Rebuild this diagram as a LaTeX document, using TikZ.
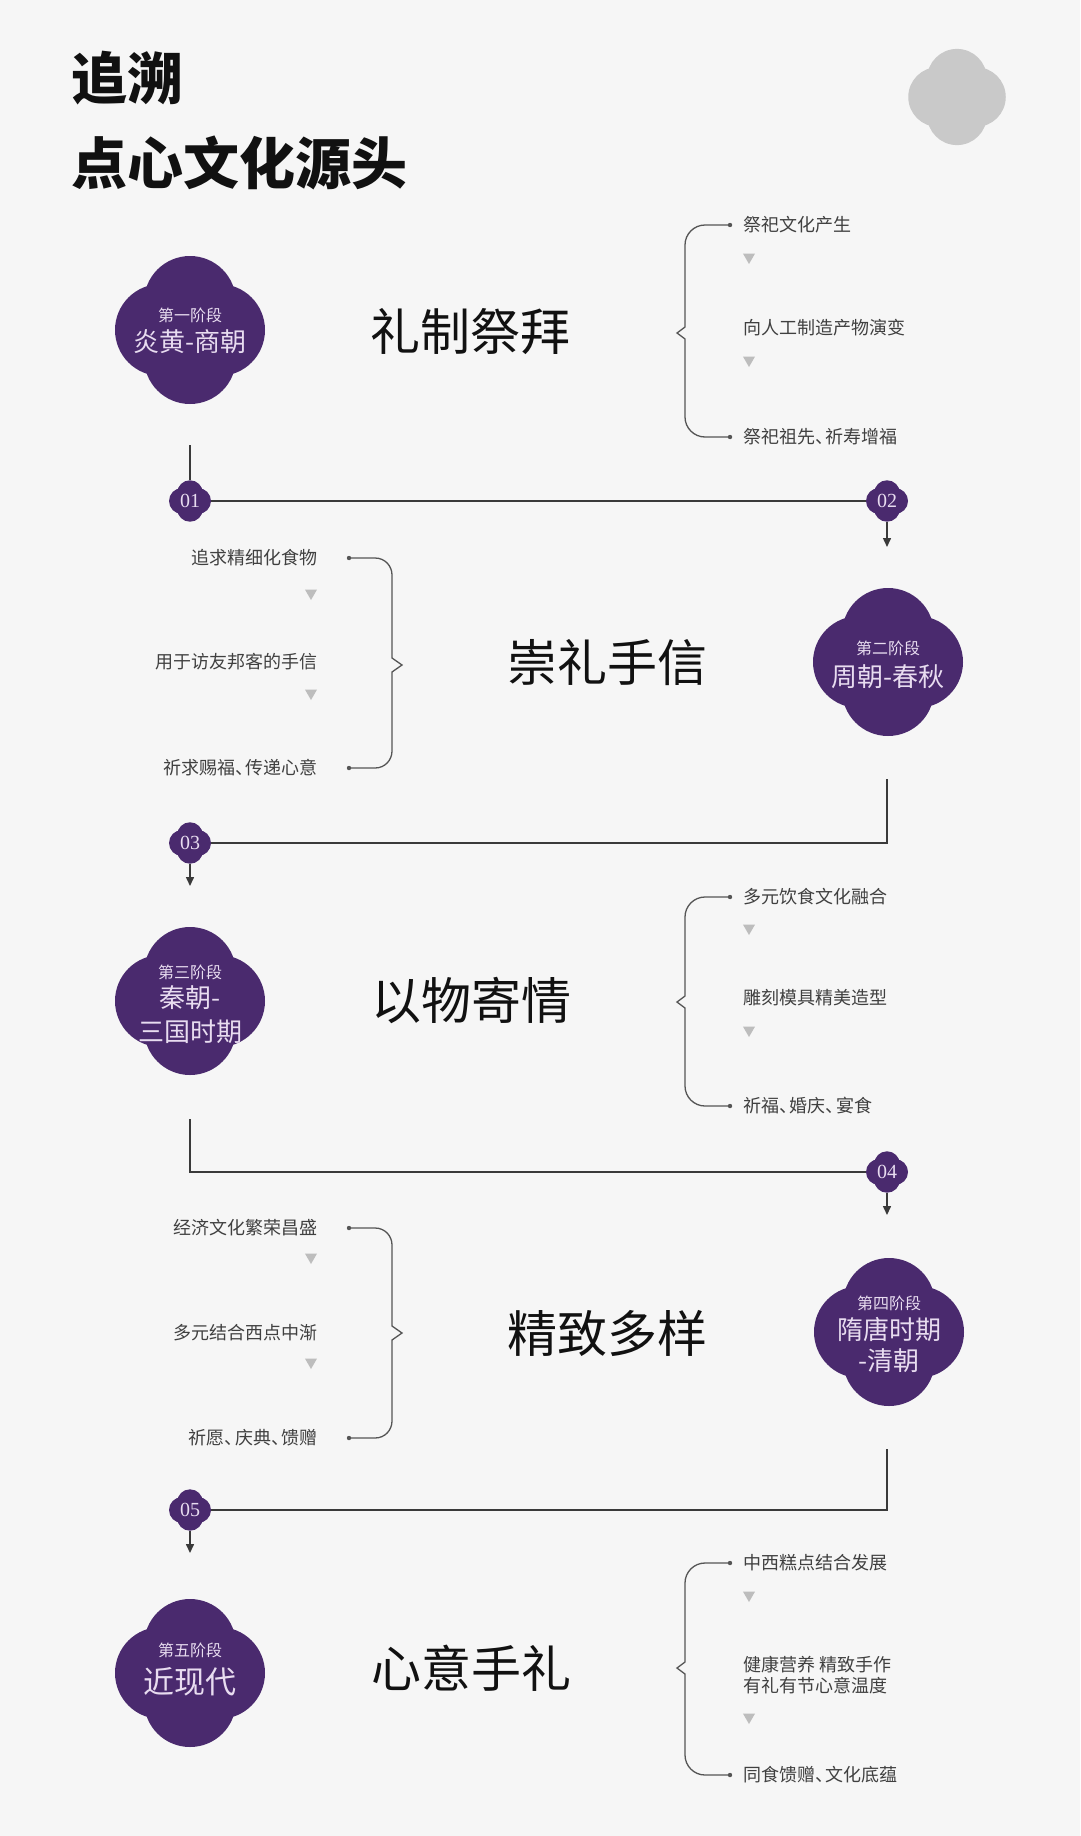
\documentclass[tikz,border=0pt]{standalone}
\usepackage{fontspec}
\usetikzlibrary{arrows.meta,shapes.geometric}
\newfontfamily\cjk{Noto Sans CJK SC}
\newfontfamily\numfont{Liberation Serif}
\definecolor{bg}{HTML}{F6F6F6}
\definecolor{plum}{HTML}{4A2A6E}
\definecolor{lav}{HTML}{E8DCF0}
\definecolor{lineC}{HTML}{3A3A3A}
\definecolor{brk}{HTML}{555555}
\definecolor{itemC}{HTML}{404040}
\definecolor{triC}{HTML}{BDBDBD}
\definecolor{cloudG}{HTML}{C9C9C9}
\definecolor{ink}{HTML}{111111}
\newcommand\dun{、\kern-0.42em}
% clover shape: x, y, scale, colour
\newcommand\clover[4]{\fill[#4] ({#1+29*#3},{#2}) circle[radius={46*#3}] ({#1-29*#3},{#2}) circle[radius={46*#3}] ({#1},{#2+28*#3}) circle[radius={46*#3}] ({#1},{#2-28*#3}) circle[radius={46*#3}];}
% right-side brace (opening to the right): top, tip, bottom
\newcommand\rbrk[3]{%
  \draw[brkline] (730,#1) -- (705,#1) .. controls (694,#1) and (685,{#1+9}) .. (685,{#1+20}) -- (685,{#2-6}) -- (677,#2) -- (685,{#2+6}) -- (685,{#3-20}) .. controls (685,{#3-9}) and (694,#3) .. (705,#3) -- (730,#3);
  \fill[brk] (730,#1) circle[radius=2.2] (730,#3) circle[radius=2.2];}
% left-side brace (closing): top, tip, bottom
\newcommand\lbrk[3]{%
  \draw[brkline] (349,#1) -- (375,#1) .. controls (385,#1) and (392,{#1+8}) .. (392,{#1+17}) -- (392,{#2-7}) -- (402,#2) -- (392,{#2+7}) -- (392,{#3-17}) .. controls (392,{#3-8}) and (385,#3) .. (375,#3) -- (349,#3);
  \fill[brk] (349,#1) circle[radius=2.2] (349,#3) circle[radius=2.2];}
\begin{document}
\begin{tikzpicture}[x=1pt,y=-1pt,
  titletxt/.style={font=\cjk\bfseries\fontsize{56}{60}\selectfont,text=ink,inner sep=0pt,anchor=west},
  stitle/.style={font=\cjk\fontsize{50}{56}\selectfont,text=ink,inner sep=0pt},
  labsmall/.style={font=\cjk\fontsize{16}{18}\selectfont,text=lav,inner sep=0pt},
  labbig/.style={font=\cjk\fontsize{26}{30}\selectfont,text=lav,inner sep=0pt},
  itemR/.style={font=\cjk\fontsize{18}{21}\selectfont,text=itemC,inner sep=0pt,anchor=west,align=left},
  itemL/.style={font=\cjk\fontsize{18}{21}\selectfont,text=itemC,inner sep=0pt,anchor=east,align=right},
  tri/.style={regular polygon,regular polygon sides=3,shape border rotate=180,fill=triC,minimum size=14pt,inner sep=0pt},
  badge/.style={circle,minimum size=42pt,inner sep=0pt,font=\numfont\fontsize{20}{20}\selectfont,text=lav},
  conn/.style={draw=lineC,line width=1.5pt},
  arr/.style={-{Triangle[width=8pt,length=9pt]}},
  brkline/.style={draw=brk,line width=1.3pt}]
\fill[bg] (0,0) rectangle (1080,1836);
\useasboundingbox (0,0) rectangle (1080,1836);

% title
\node[titletxt] (t1) at (71,78) {追溯};
\node[titletxt] (t2) at (71,163) {点心文化源头};
\clover{957}{97}{0.65}{cloudG}

% ---------- stage 1
\clover{190}{330}{1}{plum}
\node[labsmall] (s1a) at (190,315) {第一阶段};
\node[labbig] (s1b) at (190,342) {炎黄-商朝};
\node[stitle] (h1) at (470,332) {礼制祭拜};
\node[itemR] (a11) at (743,225) {祭祀文化产生};
\node[tri] (a1t1) at (749,257) {};
\node[itemR] (a12) at (743,328) {向人工制造产物演变};
\node[tri] (a1t2) at (749,360) {};
\node[itemR] (a13) at (743,437) {祭祀祖先\dun 祈寿增福};
\rbrk{225}{333}{437}

% connector 1 -> 2
\coordinate (c1) at (190,445);
\clover{190}{501}{0.28}{plum}
\node[badge] (b1) at (190,501) {01};
\clover{887}{501}{0.28}{plum}
\node[badge] (b2) at (887,501) {02};
\coordinate (e2) at (887,547);
\draw[conn] (c1) -- (b1);
\draw[conn] (b1) -- (b2);
\draw[conn,arr] (b2) -- (e2);

% ---------- stage 2
\clover{888}{662}{1}{plum}
\node[labsmall] (s2a) at (888,648) {第二阶段};
\node[labbig] (s2b) at (888,677) {周朝-春秋};
\node[stitle] (h2) at (607,663) {崇礼手信};
\node[itemL] (a21) at (318,558) {追求精细化食物};
\node[tri] (a2t1) at (311,593) {};
\node[itemL] (a22) at (318,662) {用于访友邦客的手信};
\node[tri] (a2t2) at (311,693) {};
\node[itemL] (a23) at (318,768) {祈求赐福\dun 传递心意};
\lbrk{558}{665}{768}

% connector 2 -> 3
\coordinate (c2) at (887,779);
\clover{190}{843}{0.28}{plum}
\node[badge] (b3) at (190,843) {03};
\coordinate (e3) at (190,886);
\draw[conn] (c2) |- (b3);
\draw[conn,arr] (b3) -- (e3);

% ---------- stage 3
\clover{190}{1001}{1}{plum}
\node[labsmall] (s3a) at (190,972) {第三阶段};
\node[labbig] (s3b) at (190,998) {秦朝-};
\node[labbig] (s3c) at (190,1032) {三国时期};
\node[stitle] (h3) at (471,1000) {以物寄情};
\node[itemR] (a31) at (743,897) {多元饮食文化融合};
\node[tri] (a3t1) at (749,928) {};
\node[itemR] (a32) at (743,998) {雕刻模具精美造型};
\node[tri] (a3t2) at (749,1030) {};
\node[itemR] (a33) at (743,1106) {祈福\dun 婚庆\dun 宴食};
\rbrk{897}{1002}{1106}

% connector 3 -> 4
\coordinate (c3) at (190,1119);
\clover{887}{1172}{0.28}{plum}
\node[badge] (b4) at (887,1172) {04};
\coordinate (e4) at (887,1215);
\draw[conn] (c3) |- (b4);
\draw[conn,arr] (b4) -- (e4);

% ---------- stage 4
\clover{889}{1332}{1}{plum}
\node[labsmall] (s4a) at (889,1303) {第四阶段};
\node[labbig] (s4b) at (889,1329) {隋唐时期};
\node[labbig] (s4c) at (889,1361) {-清朝};
\node[stitle] (h4) at (607,1333) {精致多样};
\node[itemL] (a41) at (318,1228) {经济文化繁荣昌盛};
\node[tri] (a4t1) at (311,1257) {};
\node[itemL] (a42) at (318,1333) {多元结合西点中渐};
\node[tri] (a4t2) at (311,1362) {};
\node[itemL] (a43) at (318,1438) {祈愿\dun 庆典\dun 馈赠};
\lbrk{1228}{1333}{1438}

% connector 4 -> 5
\coordinate (c4) at (887,1449);
\clover{190}{1510}{0.28}{plum}
\node[badge] (b5) at (190,1510) {05};
\coordinate (e5) at (190,1553);
\draw[conn] (c4) |- (b5);
\draw[conn,arr] (b5) -- (e5);

% ---------- stage 5
\clover{190}{1673}{1}{plum}
\node[labsmall] (s5a) at (190,1650) {第五阶段};
\node[font=\cjk\fontsize{31}{34}\selectfont,text=lav,inner sep=0pt] (s5b) at (190,1682) {近现代};
\node[stitle] (h5) at (471,1668) {心意手礼};
\node[itemR] (a51) at (743,1563) {中西糕点结合发展};
\node[tri] (a5t1) at (749,1595) {};
\node[itemR] (a52) at (743,1675) {健康营养 精致手作\\有礼有节心意温度};
\node[tri] (a5t2) at (749,1717) {};
\node[itemR] (a53) at (743,1775) {同食馈赠\dun 文化底蕴};
\rbrk{1563}{1668}{1775}
\end{tikzpicture}
\end{document}
